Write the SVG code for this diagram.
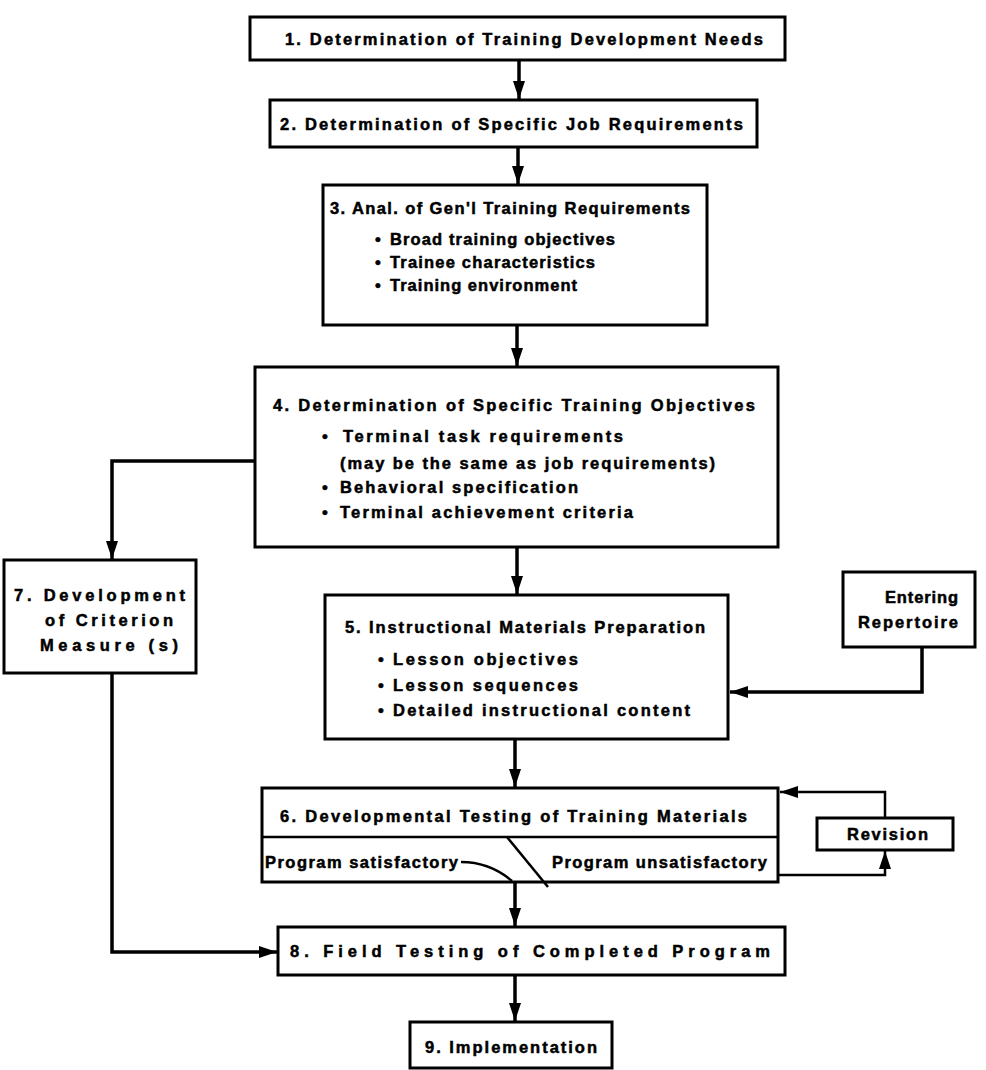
<svg xmlns="http://www.w3.org/2000/svg" width="986" height="1070" viewBox="0 0 986 1070">
<style>
.box{fill:#fff;stroke:#000;stroke-width:3}
.t{font-family:"Liberation Sans",Arial,sans-serif;font-weight:bold;font-size:16.5px;fill:#000;stroke:#000;stroke-width:0.5}
.c{fill:none;stroke:#000;stroke-width:3.5}
.thin{fill:none;stroke:#000;stroke-width:2.5}
</style>
<defs>
<marker id="ah" viewBox="0 0 18 12" markerWidth="18" markerHeight="12" refX="18" refY="6" orient="auto" markerUnits="userSpaceOnUse">
<path d="M0,0 L18,6 L0,12 z" fill="#000"/>
</marker>
</defs>
<rect width="986" height="1070" fill="#fff"/>

<g id="connectors">
<path class="c" d="M519 60 V99" marker-end="url(#ah)"/>
<path class="c" d="M518 147 V184" marker-end="url(#ah)"/>
<path class="c" d="M517 325 V366" marker-end="url(#ah)"/>
<path class="c" d="M255 461 H112 V559" marker-end="url(#ah)"/>
<path class="c" d="M517 547 V594" marker-end="url(#ah)"/>
<path class="c" d="M922 647 V692 H730" marker-end="url(#ah)"/>
<path class="c" d="M515 739 V787" marker-end="url(#ah)"/>
<path class="c" d="M515 882 V926" marker-end="url(#ah)"/>
<path class="c" d="M112 673 V952 H277" marker-end="url(#ah)"/>
<path class="c" d="M515 975 V1021" marker-end="url(#ah)"/>
<path class="thin" d="M778 875 H885 V851" marker-end="url(#ah)"/>
<path class="thin" d="M885 818 V792 H780" marker-end="url(#ah)"/>
</g>

<g id="n1">
<rect class="box" x="250" y="17" width="535" height="43"/>
<text class="t" x="285" y="45" textLength="478" lengthAdjust="spacing">1. Determination of Training Development Needs</text>
</g>

<g id="n2">
<rect class="box" x="270" y="100" width="487" height="47"/>
<text class="t" x="280" y="130" textLength="463" lengthAdjust="spacing">2. Determination of Specific Job Requirements</text>
</g>

<g id="n3">
<rect class="box" x="323" y="185" width="384" height="140"/>
<text class="t" x="330" y="214" textLength="360" lengthAdjust="spacing">3. Anal. of Gen'l Training Requirements</text>
<text class="t" x="375" y="245">•</text>
<text class="t" x="390" y="245" textLength="225" lengthAdjust="spacing">Broad training objectives</text>
<text class="t" x="375" y="268">•</text>
<text class="t" x="390" y="268" textLength="205" lengthAdjust="spacing">Trainee characteristics</text>
<text class="t" x="375" y="291">•</text>
<text class="t" x="390" y="291" textLength="187" lengthAdjust="spacing">Training environment</text>
</g>

<g id="n4">
<rect class="box" x="255" y="367" width="523" height="180"/>
<text class="t" x="273" y="411" textLength="482" lengthAdjust="spacing">4. Determination of Specific Training Objectives</text>
<text class="t" x="322" y="442">•</text>
<text class="t" x="343" y="442" textLength="280" lengthAdjust="spacing">Terminal  task  requirements</text>
<text class="t" x="340" y="469" textLength="375" lengthAdjust="spacing">(may be the same as job requirements)</text>
<text class="t" x="322" y="493">•</text>
<text class="t" x="340" y="493" textLength="238" lengthAdjust="spacing">Behavioral specification</text>
<text class="t" x="322" y="518">•</text>
<text class="t" x="340" y="518" textLength="293" lengthAdjust="spacing">Terminal achievement criteria</text>
</g>

<g id="n7">
<rect class="box" x="4" y="560" width="192" height="113"/>
<text class="t" x="14" y="601" textLength="171" lengthAdjust="spacing">7. Development</text>
<text class="t" x="45" y="626" textLength="128" lengthAdjust="spacing">of Criterion</text>
<text class="t" x="40" y="651" textLength="138" lengthAdjust="spacing">Measure (s)</text>
</g>

<g id="n5">
<rect class="box" x="325" y="595" width="403" height="144"/>
<text class="t" x="345" y="633" textLength="360" lengthAdjust="spacing">5. Instructional Materials Preparation</text>
<text class="t" x="378" y="665">•</text>
<text class="t" x="393" y="665" textLength="185" lengthAdjust="spacing">Lesson objectives</text>
<text class="t" x="378" y="691">•</text>
<text class="t" x="393" y="691" textLength="185" lengthAdjust="spacing">Lesson sequences</text>
<text class="t" x="378" y="716">•</text>
<text class="t" x="393" y="716" textLength="297" lengthAdjust="spacing">Detailed instructional content</text>
</g>

<g id="nER">
<rect class="box" x="843" y="572" width="132" height="75"/>
<text class="t" x="885" y="603" textLength="73" lengthAdjust="spacing">Entering</text>
<text class="t" x="858" y="628" textLength="100" lengthAdjust="spacing">Repertoire</text>
</g>

<g id="n6">
<rect class="box" x="262" y="788" width="516" height="94"/>
<line x1="262" y1="837" x2="778" y2="837" stroke="#000" stroke-width="2.5"/>
<text class="t" x="280" y="822" textLength="467" lengthAdjust="spacing">6. Developmental Testing of Training Materials</text>
<text class="t" x="265" y="868" textLength="193" lengthAdjust="spacing">Program satisfactory</text>
<text class="t" x="552" y="868" textLength="215" lengthAdjust="spacing">Program unsatisfactory</text>
<path class="thin" d="M461 862 Q490 862 512 881"/>
<line x1="507" y1="837" x2="548" y2="887" stroke="#000" stroke-width="2.5"/>
</g>

<g id="nRev">
<rect class="box" x="817" y="818" width="136" height="32"/>
<text class="t" x="847" y="840" textLength="81" lengthAdjust="spacing">Revision</text>
</g>

<g id="n8">
<rect class="box" x="278" y="927" width="507" height="48"/>
<text class="t" x="290" y="957" textLength="480" lengthAdjust="spacing">8. Field Testing of Completed Program</text>
</g>

<g id="n9">
<rect class="box" x="410" y="1022" width="202" height="46"/>
<text class="t" x="425" y="1053" textLength="172" lengthAdjust="spacing">9. Implementation</text>
</g>
</svg>
